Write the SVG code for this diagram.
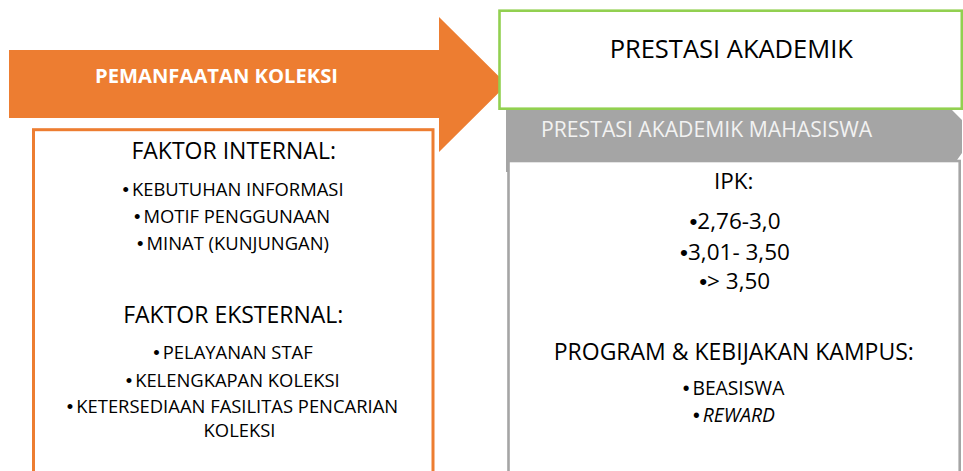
<svg xmlns="http://www.w3.org/2000/svg" width="963" height="471" viewBox="0 0 963 471">
<style>
text { font-family: "Open Sans", "Noto Sans", "Liberation Sans", sans-serif; fill: #000; text-anchor: middle; }
.head { font-size: 23px; }
.item { font-size: 18.4px; }
.num { font-size: 22.5px; }
.ritem { font-size: 19.3px; }
.b { font-family: "Liberation Sans", Arial, sans-serif; font-style: normal; }
</style>
<rect x="0" y="0" width="963" height="471" fill="#fff"/>
<g id="connectors">
  <g id="arrow-pemanfaatan">
    <polygon points="9,50 439,50 439,17 507,84.5 439,152 439,118 9,118" fill="#ED7D31"/>
    <text x="216.5" y="83.3" style="font-size:20.2px;font-weight:700;fill:#fff">PEMANFAATAN KOLEKSI</text>
  </g>
</g>
<g id="faktor">
  <rect x="33.5" y="129.7" width="399.5" height="360" fill="#fff" stroke="#ED7D31" stroke-width="3"/>
  <text class="head" x="233.7" y="159">FAKTOR INTERNAL:</text>
  <text class="item" x="233" y="196"><tspan class="b">•</tspan><tspan dx="3">KEBUTUHAN INFORMASI</tspan></text>
  <text class="item" x="232" y="223.3"><tspan class="b">•</tspan><tspan dx="3">MOTIF PENGGUNAAN</tspan></text>
  <text class="item" x="233" y="250"><tspan class="b">•</tspan><tspan dx="3">MINAT (KUNJUNGAN)</tspan></text>
  <text class="head" x="233.3" y="322.7">FAKTOR EKSTERNAL:</text>
  <text class="item" x="233" y="359.3"><tspan class="b">•</tspan><tspan dx="3">PELAYANAN STAF</tspan></text>
  <text class="item" x="232.7" y="386.7"><tspan class="b">•</tspan><tspan dx="3">KELENGKAPAN KOLEKSI</tspan></text>
  <text class="item" x="232.5" y="413.3"><tspan class="b">•</tspan><tspan dx="3">KETERSEDIAAN FASILITAS PENCARIAN</tspan></text>
  <text class="item" x="239.5" y="436.7">KOLEKSI</text>
</g>
<g id="prestasi-mahasiswa">
  <polygon points="506,110 952,110 962,120 962,153 957,160 511,160 511,172 506,172" fill="#A5A5A5"/>
  <text x="541" y="137" style="font-size:21.2px;fill:#F2F2F2;text-anchor:start">PRESTASI AKADEMIK MAHASISWA</text>
  <rect x="508.5" y="161" width="451.2" height="330" fill="#fff" stroke="#A5A5A5" stroke-width="2.6"/>
  <text class="num" x="733.7" y="189.3">IPK:</text>
  <text class="num" x="735" y="229.3"><tspan class="b">•</tspan>2,76-3,0</text>
  <text class="num" x="735" y="260"><tspan class="b">•</tspan>3,01- 3,50</text>
  <text class="num" x="734.7" y="289.3"><tspan class="b">•</tspan>&gt; 3,50</text>
  <text class="head" x="733.8" y="360">PROGRAM &amp; KEBIJAKAN KAMPUS:</text>
  <text class="ritem" x="733.5" y="395.3"><tspan class="b">•</tspan><tspan dx="3">BEASISWA</tspan></text>
  <text class="ritem" x="734" y="422.3"><tspan class="b">•</tspan><tspan dx="3" font-style="italic">REWARD</tspan></text>
</g>
<g id="prestasi-akademik">
  <rect x="499.5" y="10.7" width="462.3" height="98" fill="#fff" stroke="#92D050" stroke-width="2.6"/>
  <text x="731.3" y="58.3" style="font-size:25.5px">PRESTASI AKADEMIK</text>
</g>
</svg>
